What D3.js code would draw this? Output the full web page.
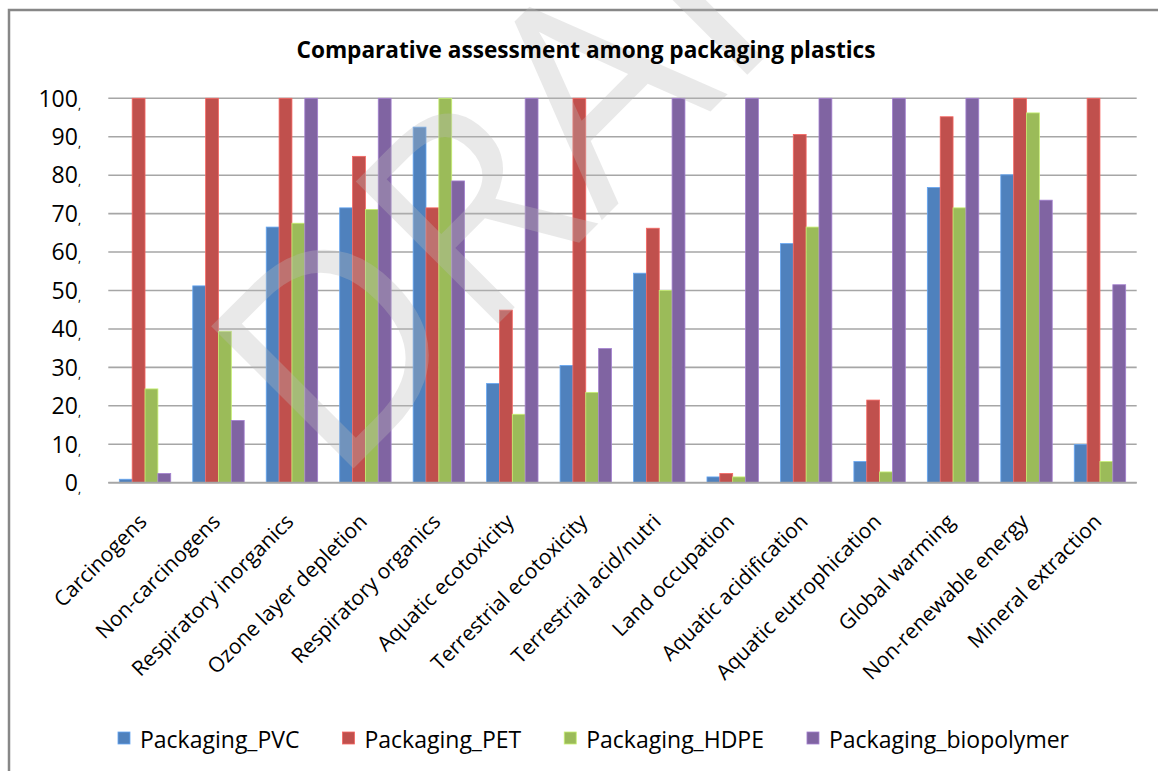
<!DOCTYPE html>
<html>
<head>
<meta charset="utf-8">
<script src="https://cdn.jsdelivr.net/npm/d3@7"></script>
<style>
  html, body { margin: 0; padding: 0; background: #fff; }
  svg { display: block; }
</style>
</head>
<body>
<script>
// Impact categories (x axis)
const categories = [
  "Carcinogens", "Non-carcinogens", "Respiratory inorganics", "Ozone layer depletion",
  "Respiratory organics", "Aquatic ecotoxicity", "Terrestrial ecotoxicity",
  "Terrestrial acid/nutri", "Land occupation", "Aquatic acidification",
  "Aquatic eutrophication", "Global warming", "Non-renewable energy", "Mineral extraction"
];

// Series names
const seriesNames = ["Packaging_PVC", "Packaging_PET", "Packaging_HDPE", "Packaging_biopolymer"];

// Relative scores (max = 100) per series
const pvcValues  = [0.9, 51.2, 66.5, 71.5, 92.5, 25.8, 30.5, 54.5, 1.5, 62.2, 5.5, 76.8, 80.1, 9.9];
const petValues  = [100, 100, 100, 84.9, 71.5, 44.9, 100, 66.2, 2.4, 90.6, 21.5, 95.2, 100, 100];
const hdpeValues = [24.4, 39.4, 67.5, 71.1, 100, 17.8, 23.5, 50.0, 1.5, 66.5, 2.8, 71.5, 96.2, 5.5];
const bioValues  = [2.4, 16.2, 100, 100, 78.5, 100, 34.9, 100, 100, 100, 100, 100, 73.5, 51.5];

// Y axis ticks
const yTicks = [0, 10, 20, 30, 40, 50, 60, 70, 80, 90, 100];

const seriesColors = ["#4F81BD", "#C0504D", "#9BBB59", "#8064A2"];
const chartTitle = "Comparative assessment among packaging plastics";
const watermarkText = "DRAFT";

const seriesValues = [pvcValues, petValues, hdpeValues, bioValues];

const W = 1158, H = 771;
const FONT = "'Open Sans', 'DejaVu Sans', sans-serif";

const svg = d3.select("body").append("svg")
  .attr("width", W).attr("height", H)
  .attr("viewBox", `0 0 ${W} ${H}`);

// Chart frame
svg.append("rect")
  .attr("x", 9).attr("y", 10)
  .attr("width", 1170).attr("height", 800)
  .attr("fill", "#fff")
  .attr("stroke", "#878787").attr("stroke-width", 2.5);

const plot = { left: 108.3, right: 1136.7, top: 98.3, bottom: 482.7 };

const x = d3.scaleBand()
  .domain(categories)
  .range([plot.left, plot.right])
  .paddingInner(0.3)
  .paddingOuter(0.15);

const xs = d3.scaleBand()
  .domain(d3.range(seriesNames.length))
  .range([0, x.bandwidth()])
  .padding(0);

const y = d3.scaleLinear().domain([0, 100]).range([plot.bottom, plot.top]);

// Horizontal gridlines
svg.append("g").selectAll("line")
  .data(yTicks)
  .join("line")
  .attr("x1", plot.left).attr("x2", plot.right)
  .attr("y1", d => y(d)).attr("y2", d => y(d))
  .attr("stroke", "#a6a6a6").attr("stroke-width", 1.6);

// Bars
const groups = svg.append("g").selectAll("g")
  .data(categories)
  .join("g")
  .attr("transform", d => `translate(${x(d)},0)`);

groups.selectAll("rect")
  .data((c, i) => seriesValues.map((vals, s) => ({ s, v: vals[i] })))
  .join("rect")
  .attr("x", d => xs(d.s))
  .attr("width", xs.bandwidth())
  .attr("y", d => y(d.v))
  .attr("height", d => y(0) - y(d.v))
  .attr("fill", d => seriesColors[d.s])
  .attr("stroke", d => d3.color(seriesColors[d.s]).brighter(0.7))
  .attr("stroke-width", 0.8);

// Baseline
svg.append("line")
  .attr("x1", plot.left).attr("x2", plot.right)
  .attr("y1", y(0)).attr("y2", y(0))
  .attr("stroke", "#a6a6a6").attr("stroke-width", 1.8);

// Y tick labels (value followed by a small comma)
const yLab = svg.append("g").selectAll("text")
  .data(yTicks)
  .join("text")
  .attr("x", 81)
  .attr("y", d => y(d) + 8.3)
  .attr("text-anchor", "end")
  .attr("font-family", FONT)
  .attr("font-size", 23)
  .attr("fill", "#000");
yLab.append("tspan").text(d => d);
yLab.append("tspan").attr("font-size", 12).attr("dy", 2).text(",");

// Category labels, rotated
svg.append("g").selectAll("text")
  .data(categories)
  .join("text")
  .attr("transform", d => `translate(${x(d) + x.bandwidth() / 2 + 3},523) rotate(-45)`)
  .attr("text-anchor", "end")
  .attr("font-family", FONT)
  .attr("font-size", 21)
  .attr("fill", "#000")
  .text(d => d);

// Watermark
svg.append("text")
  .attr("transform", "translate(334,488) rotate(-45)")
  .attr("font-family", FONT)
  .attr("font-size", 282)
  .attr("fill", "#bcbcbc")
  .attr("fill-opacity", 0.32)
  .text(watermarkText);

// Title
const title = svg.append("text")
  .attr("x", 586).attr("y", 58)
  .attr("text-anchor", "middle")
  .attr("font-family", FONT)
  .attr("font-weight", "bold")
  .attr("font-size", 24)
  .attr("fill", "#000")
  .text(chartTitle);
title.attr("textLength", 579).attr("lengthAdjust", "spacingAndGlyphs");

// Legend
const legend = svg.append("g");
const items = legend.selectAll("g")
  .data(seriesNames)
  .join("g");
items.append("rect")
  .attr("width", 12).attr("height", 12)
  .attr("y", 732)
  .attr("fill", (d, i) => seriesColors[i])
  .attr("stroke", (d, i) => d3.color(seriesColors[i]).brighter(0.7))
  .attr("stroke-width", 0.8);
items.append("text")
  .attr("x", 22).attr("y", 747.5)
  .attr("font-family", FONT)
  .attr("font-size", 23)
  .attr("fill", "#000")
  .text(d => d);

// Lay out legend entries side by side, centered
const gap = 43;
const widths = [];
items.each(function () {
  widths.push(22 + d3.select(this).select("text").node().getComputedTextLength());
});
const total = d3.sum(widths) + gap * (widths.length - 1);
let cursor = 593.5 - total / 2;
items.each(function (d, i) {
  d3.select(this).select("rect").attr("x", cursor);
  d3.select(this).select("text").attr("x", cursor + 22);
  cursor += widths[i] + gap;
});
</script>
</body>
</html>
